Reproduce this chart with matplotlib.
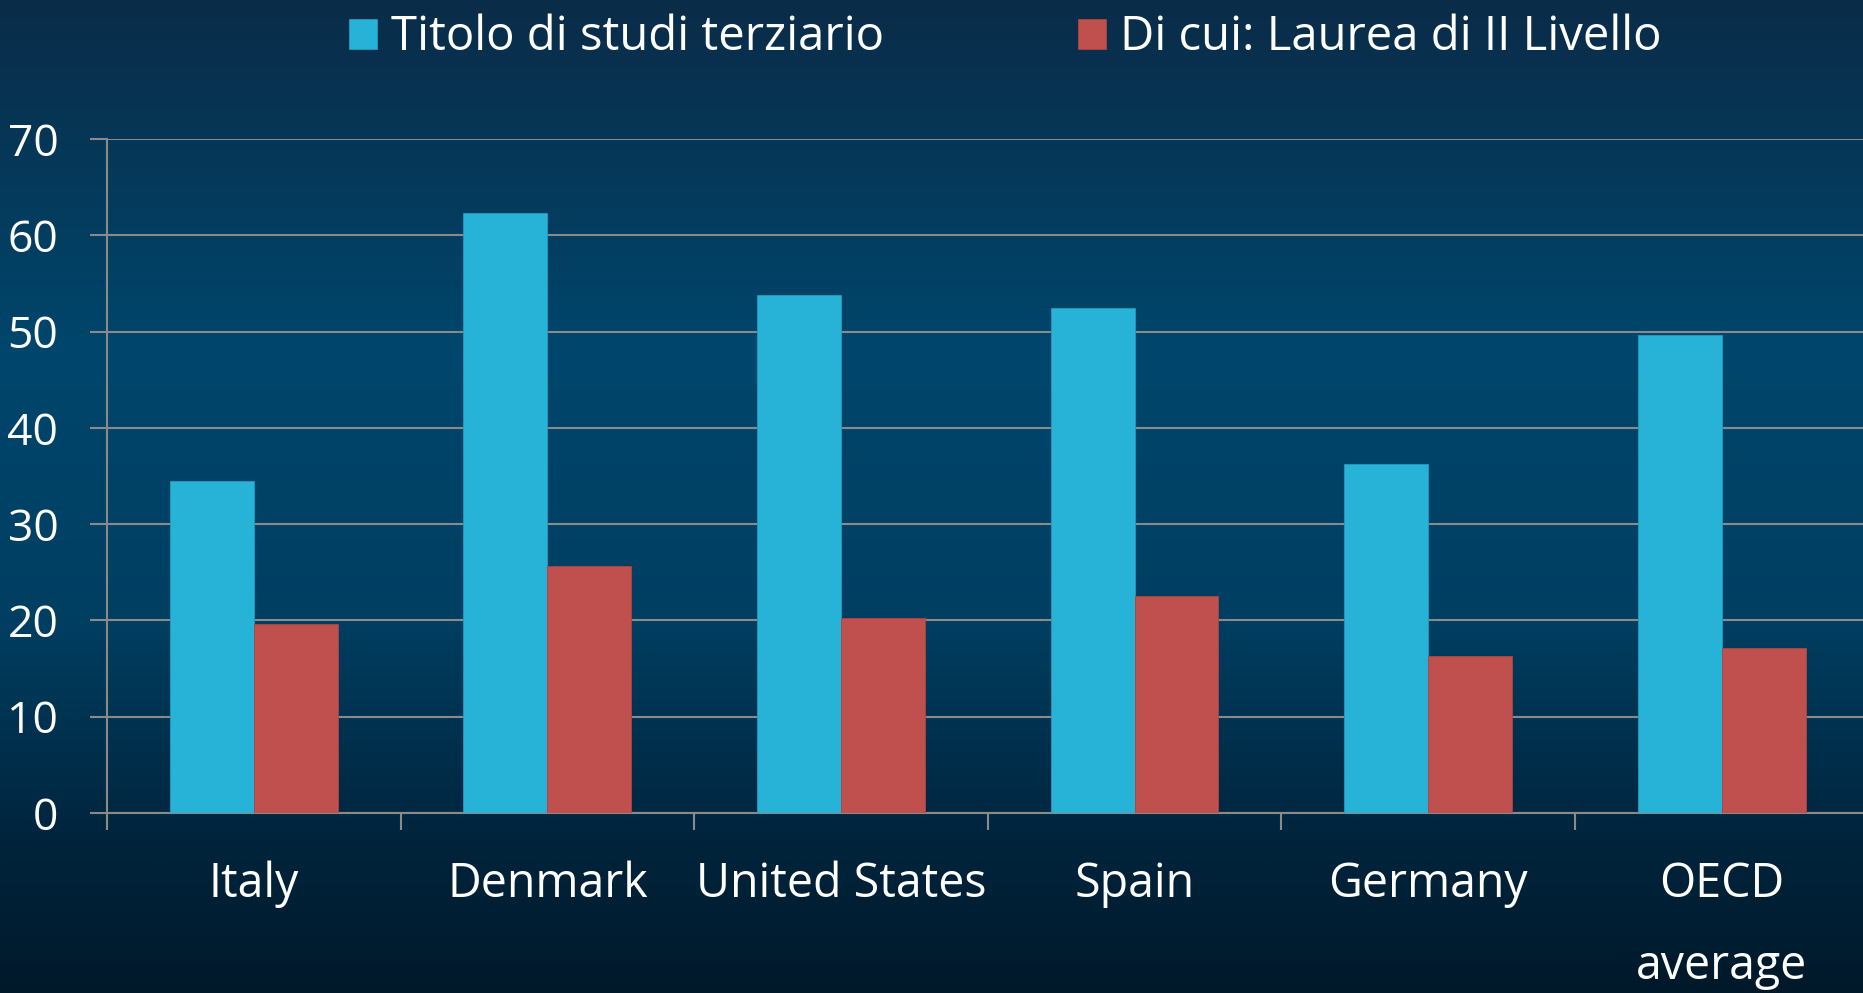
import matplotlib

matplotlib.use('Agg')

import matplotlib.pyplot as plt
import numpy as np
from matplotlib.colors import LinearSegmentedColormap

plt.rcParams['font.family'] = ['Open Sans', 'DejaVu Sans']

categories = ['Italy', 'Denmark', 'United States', 'Spain', 'Germany', 'OECD\naverage']
tertiary = [34.5, 62.3, 53.8, 52.4, 36.2, 49.6]
second_level = [19.6, 25.6, 20.2, 22.5, 16.3, 17.1]
series_labels = ['Titolo di studi terziario', 'Di cui: Laurea di II Livello']
y_ticks = [0, 10, 20, 30, 40, 50, 60, 70]

CYAN = '#27B2D8'
RED = '#C0504D'
GRID = '#8a8a8a'


def draw_background(fig):
    bg = fig.add_axes([0, 0, 1, 1], zorder=-10)
    cmap = LinearSegmentedColormap.from_list('bg', [
        (0.0, '#0a2c48'), (0.35, '#00466c'), (0.62, '#003f62'),
        (0.85, '#00243c'), (1.0, '#00192a')])
    grad = np.linspace(0, 1, 512).reshape(-1, 1)
    bg.imshow(grad, aspect='auto', cmap=cmap, extent=(0, 1, 1, 0))
    bg.set_axis_off()


def main():
    fig = plt.figure(figsize=(18.63, 9.93), dpi=100)
    draw_background(fig)

    ax = fig.add_axes([0.0574, 0.1813, 0.9456, 0.6787])
    ax.set_facecolor('none')

    x = np.arange(len(categories)) + 0.5
    w = 0.2857
    b1 = ax.bar(x - w / 2, tertiary, w, color=CYAN, edgecolor='#1f9cc0', linewidth=0.6, zorder=3)
    b2 = ax.bar(x + w / 2, second_level, w, color=RED, edgecolor='#b0443f', linewidth=0.6, zorder=3)

    ax.set_xlim(0, len(categories))
    ax.set_ylim(0, 70)
    ax.set_yticks(y_ticks)
    ax.yaxis.grid(True, color=GRID, lw=1.5, zorder=1)
    ax.set_axisbelow(True)

    # category boundaries carry the tick marks, centres carry the labels
    ax.set_xticks(np.arange(len(categories) + 1))
    ax.set_xticklabels([])
    ax.set_xticks(x, minor=True)
    ax.set_xticklabels(categories, minor=True, linespacing=1.95)
    ax.tick_params(axis='x', which='major', length=12, width=1.5, color=GRID, direction='out')
    ax.tick_params(axis='x', which='minor', length=0, pad=34, labelsize=33.5, labelcolor='white')
    ax.tick_params(axis='y', length=12, width=1.5, color=GRID, pad=23, labelsize=32, labelcolor='white')

    for side in ('top', 'right'):
        ax.spines[side].set_visible(False)
    for side in ('left', 'bottom'):
        ax.spines[side].set_color(GRID)
        ax.spines[side].set_linewidth(1.5)

    fig.legend([b1, b2], series_labels, loc='center', bbox_to_anchor=(0.5395, 0.962), ncol=2,
               frameon=False, fontsize=34, labelcolor='white', handlelength=0.6, handleheight=0.6,
               handletextpad=0.3, columnspacing=4.1)

    fig.savefig('out.png', dpi=100)


if __name__ == '__main__':
    main()
